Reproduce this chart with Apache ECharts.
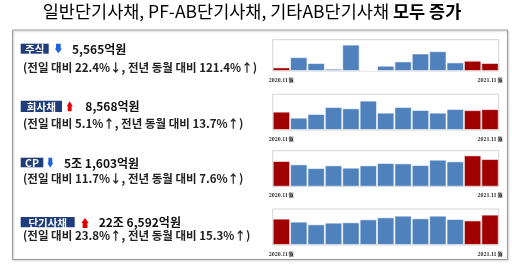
<!DOCTYPE html>
<html><head><meta charset="utf-8">
<script src="https://cdn.jsdelivr.net/npm/echarts@6/dist/echarts.min.js"></script>
<style>html,body{margin:0;padding:0;background:#fff}#c{width:512px;height:265px}</style>
</head><body><div id="c"></div>
<script>
const months = ['2020.11월','2020.12월','2021.01월','2021.02월','2021.03월','2021.04월','2021.05월','2021.06월','2021.07월','2021.08월','2021.09월','2021.10월','2021.11월'];
const stockVals = [2513, 9660, 5520, 1610, 18400, 690, 3680, 6670, 12190, 13800, 5980, 7171, 5565];
const corpVals = [7536, 5070, 6580, 9450, 8900, 12060, 7120, 9450, 8220, 7120, 8630, 8152, 8568];
const cpVals = [47958, 41700, 34800, 39800, 35500, 39800, 44200, 43500, 40400, 50400, 47300, 58441, 51603];
const stbVals = [196524, 174000, 154000, 166500, 169000, 191300, 206300, 218700, 198800, 218700, 193800, 183031, 226592];
const redIdx = [0, 11, 12];
const titleMain = '일반단기사채, PF-AB단기사채, 기타AB단기사채 ';
const titleBold = '모두 증가';
const badges = ['주식', '회사채', 'CP', '단기사채'];
const amounts = ['5,565억원', '8,568억원', '5조 1,603억원', '22조 6,592억원'];
const directions = ['down', 'up', 'down', 'up'];
const details = ['(전일 대비 22.4%↓, 전년 동월 대비 121.4%↑)', '(전일 대비 5.1%↑, 전년 동월 대비 13.7%↑)', '(전일 대비 11.7%↓, 전년 동월 대비 7.6%↑)', '(전일 대비 23.8%↑, 전년 동월 대비 15.3%↑)'];

const seriesData = [stockVals, corpVals, cpVals, stbVals];
const yMax = [21800, 14660, 67180, 268400];
const grids = [[39.7, 71], [94.3, 130], [150.7, 186.7], [209, 245]];
const FONT = '"Noto Sans CJK KR", sans-serif';
const BLUE = '#4f81bd', RED = '#a00000', NAVY = '#1f3d7a';

const chart = echarts.init(document.getElementById('c'), null, {renderer: 'canvas'});
const option = {
  animation: false,
  grid: grids.map(g => ({left: 272.7, right: 13.3, top: g[0], height: g[1] - g[0], show: true, borderColor: '#d3d3d3', borderWidth: 1, backgroundColor: 'transparent'})),
  xAxis: grids.map((g, i) => ({
    type: 'category', gridIndex: i, data: months,
    axisLine: {show: false}, axisTick: {show: false},
    axisLabel: {interval: (idx) => idx === 0 || idx === months.length - 1, fontSize: 6, fontWeight: 'bold', color: '#333', margin: 6, fontFamily: 'serif'}
  })),
  yAxis: grids.map((g, i) => ({type: 'value', gridIndex: i, min: 0, max: yMax[i], show: false, splitLine: {show: false}})),
  series: seriesData.map((d, i) => ({
    type: 'bar', xAxisIndex: i, yAxisIndex: i, barCategoryGap: 0,
    data: d.map((v, j) => ({value: v, itemStyle: {color: redIdx.includes(j) ? RED : BLUE}})),
    itemStyle: {borderColor: 'rgba(255,255,255,0.55)', borderWidth: 1}
  })),
  graphic: []
};

const G = option.graphic;
G.push({type: 'rect', shape: {x: 12.5, y: 30, width: 495, height: 229.5}, style: {fill: 'none', stroke: '#9a9a9a', lineWidth: 1, shadowColor: 'rgba(0,0,0,0.25)', shadowBlur: 2, shadowOffsetX: 1, shadowOffsetY: 1}, z: 1});
G.push({type: 'text', x: 252, y: 11.5, style: {text: '{a|' + titleMain + '}{b|' + titleBold + '}', align: 'center', verticalAlign: 'middle',
  rich: {a: {fontFamily: FONT, fontSize: 17.5, color: '#333'}, b: {fontFamily: FONT, fontSize: 17.5, fontWeight: 'bold', color: '#333'}}}});

const badgeBoxes = [[20.7, 43.7, 48.7, 53.7], [20.7, 100.7, 62, 112], [20.7, 157.7, 43.3, 167.3], [20.7, 217, 74.7, 227.3]];
const arrowBoxes = [[54.7, 43.7, 62, 53.3], [66.7, 101.3, 72.7, 111.3], [47.3, 157.7, 53.3, 167.7], [81.3, 218, 88.7, 228]];
const amountX = [72, 85.3, 64, 98.7];
const detailY = [67.3, 123.3, 178.3, 236];

badges.forEach((b, i) => {
  const bb = badgeBoxes[i];
  G.push({type: 'rect', shape: {x: bb[0], y: bb[1], width: bb[2] - bb[0], height: bb[3] - bb[1]}, style: {fill: NAVY}});
  G.push({type: 'text', x: (bb[0] + bb[2]) / 2, y: (bb[1] + bb[3]) / 2 + 0.5, style: {text: b, fill: '#fff', fontFamily: FONT, fontSize: 10.5, fontWeight: 'bold', align: 'center', verticalAlign: 'middle'}});
  const a = arrowBoxes[i];
  const w = a[2] - a[0], h = a[3] - a[1], cx = (a[0] + a[2]) / 2;
  const sw = w * 0.32, headH = h * 0.5;
  let pts;
  if (directions[i] === 'down') {
    pts = [[cx - sw, a[1]], [cx + sw, a[1]], [cx + sw, a[3] - headH], [a[2], a[3] - headH], [cx, a[3]], [a[0], a[3] - headH], [cx - sw, a[3] - headH]];
  } else {
    pts = [[cx - sw, a[3]], [cx + sw, a[3]], [cx + sw, a[1] + headH], [a[2], a[1] + headH], [cx, a[1]], [a[0], a[1] + headH], [cx - sw, a[1] + headH]];
  }
  G.push({type: 'polygon', shape: {points: pts}, style: {fill: directions[i] === 'down' ? '#1f63d8' : '#e00000'}});
  G.push({type: 'text', x: amountX[i], y: (bb[1] + bb[3]) / 2 + 0.5, style: {text: amounts[i], fill: '#111', fontFamily: FONT, fontSize: 12, fontWeight: 'bold', verticalAlign: 'middle'}});
  G.push({type: 'text', x: 23, y: detailY[i], style: {text: details[i], fill: '#222', fontFamily: FONT, fontSize: 11.5, fontWeight: 'bold', verticalAlign: 'middle'}});
});

chart.setOption(option);
</script></body></html>
